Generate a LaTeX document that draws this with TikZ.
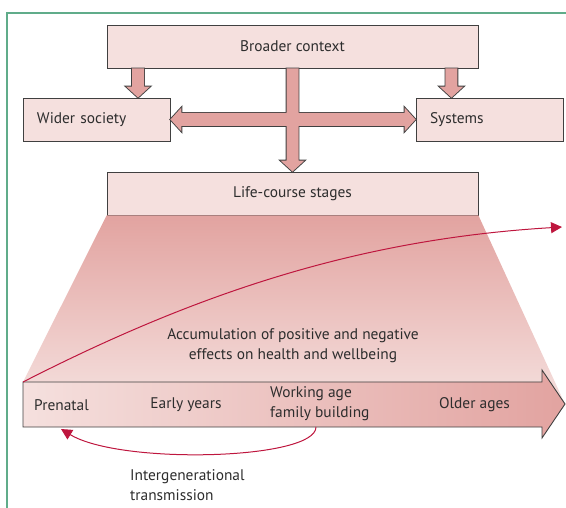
\documentclass[tikz,border=0pt]{standalone}
\usepackage{fontspec}
\setmainfont{PT Sans}
\usepackage{tikz}
\usetikzlibrary{arrows.meta,positioning,calc}

\definecolor{boxfill}{RGB}{245,224,222}
\definecolor{arrowfill}{RGB}{226,163,160}
\definecolor{edgegray}{RGB}{64,64,64}
\definecolor{textgray}{RGB}{45,45,45}
\definecolor{lancetred}{RGB}{190,22,62}
\definecolor{framegreen}{RGB}{96,172,138}

% fat arrow pointing down: #1 = tail point, #2 = point giving the tip height
\newcommand{\downblock}[2]{let \p1=(#1), \p2=(#2) in
  (\x1-6pt,\y1) -- (\x1-6pt,\y2+11pt) -- (\x1-12pt,\y2+11pt) -- (\x1,\y2)
  -- (\x1+12pt,\y2+11pt) -- (\x1+6pt,\y2+11pt) -- (\x1+6pt,\y1) -- cycle}
% fat double arrow, left tip #1, right tip #2 (same turning sense as \downblock)
\newcommand{\twoblock}[2]{let \p1=(#1), \p2=(#2) in
  (\x1,\y1) -- (\x1+11pt,\y1-12pt) -- (\x1+11pt,\y1-6.5pt) -- (\x2-11pt,\y1-6.5pt)
  -- (\x2-11pt,\y1-12pt) -- (\x2,\y1) -- (\x2-11pt,\y1+12pt) -- (\x2-11pt,\y1+6.5pt)
  -- (\x1+11pt,\y1+6.5pt) -- (\x1+11pt,\y1+12pt) -- cycle}

\begin{document}
\begin{tikzpicture}[x=1pt,y=-1pt,>={Triangle[length=11pt,width=11pt]},node distance=147pt,on grid,
    every node/.style={font=\fontsize{15.4}{19.8}\selectfont,text=textgray},
    box/.style={draw=edgegray,fill=boxfill,line width=0.9pt,minimum height=43pt,inner sep=0pt},
    sidebox/.style={box,text width=119pt,inner xsep=14pt,align=left},
    curve/.style={->,draw=lancetred,line width=1pt}]
    \useasboundingbox (0,0) rectangle (566,508);
    \draw[framegreen,line width=1.2pt] (7,508) -- (7,13) -- (566,13);

    \node[box,minimum width=371pt] (broad) at (292.5,46.5) {Broader context};
    \node[box,minimum width=371pt,below=of broad] (life) {Life-course stages};
    \node[sidebox] (wsoc) at (96.5,119.5) {Wider society};
    \node[sidebox] (sys) at (489.5,119.5) {Systems};

    \coordinate (tl-nw) at (23,382);
    \coordinate (tl-sw) at (23,427);
    \coordinate (tl-tip) at (565,404);
    \coordinate (future) at (562,227);
    \coordinate (gen) at (316,427);
    \coordinate (back) at (61,429);

    % widening band under the stages box
    \shade[top color=arrowfill,bottom color=boxfill] (life.south west) -- (life.south east) -- (tl-tip) -- (tl-nw) -- cycle;

    \path[fill=arrowfill,preaction={draw=edgegray,line width=1.8pt}]
        \downblock{$(broad.south west)+(31.5,0)$}{wsoc.north}
        \downblock{$(broad.south east)+(-27,0)$}{sys.north}
        \downblock{broad.south}{life.north}
        \twoblock{wsoc.east}{sys.west};

    % timeline
    \shade[left color=boxfill,right color=arrowfill,draw=edgegray,line width=0.9pt]
        (tl-nw) -- ++(519,0) -- ++(0,-12) -- (tl-tip) -- ++(-23,34) -- ++(0,-11) -- (tl-sw) -- cycle;
    \node (pre) at (61.5,405) {Prenatal};
    \node (early) at (186,405) {Early years};
    \node[align=left,anchor=west,inner sep=0pt] (work) at (270,404) {Working age\\family building};
    \node (old) at (474.5,405) {Older ages};

    \node[align=center] (accum) at (293,346) {Accumulation of positive and negative\\effects on health and wellbeing};
    \node[align=left,anchor=west,inner sep=0pt] (igt) at (130,485) {Intergenerational\\transmission};

    \draw[curve] (tl-nw) .. controls (201,291) and (362,239) .. (future);
    \draw[curve] (gen) .. controls (316,460) and (120,465) .. (back);
\end{tikzpicture}
\end{document}
